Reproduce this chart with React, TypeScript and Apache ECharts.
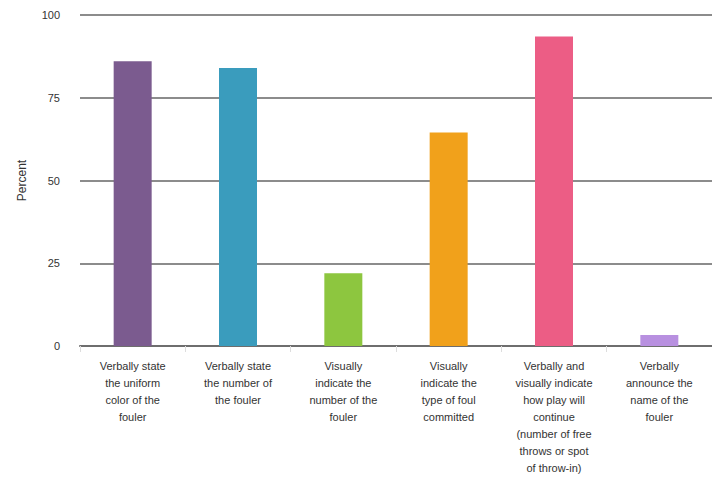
import React, { useEffect, useRef } from "react";
import * as echarts from "echarts";

const categories = [
  "Verbally state\nthe uniform\ncolor of the\nfouler",
  "Verbally state\nthe number of\nthe fouler",
  "Visually\nindicate the\nnumber of the\nfouler",
  "Visually\nindicate the\ntype of foul\ncommitted",
  "Verbally and\nvisually indicate\nhow play will\ncontinue\n(number of free\nthrows or spot\nof throw-in)",
  "Verbally\nannounce the\nname of the\nfouler",
];
const values = [86, 84, 22, 64.5, 93.5, 3.3];
const barColors = ["#7b5b8f", "#3a9cbd", "#8dc63f", "#f1a11b", "#ec5d85", "#b890e0"];
const yTicks = [0, 25, 50, 75, 100];

export default function App() {
  const ref = useRef<HTMLDivElement>(null);
  useEffect(() => {
    if (!ref.current) return;
    const chart = echarts.init(ref.current, null, { renderer: "svg" });
    const font = "'Liberation Sans', Arial, Helvetica, sans-serif";
    chart.setOption({
      animation: false,
      backgroundColor: "#ffffff",
      grid: { left: 80, top: 15, width: 636, bottom: 132, containLabel: false },
      xAxis: {
        type: "category",
        data: categories,
        axisLine: { show: true, lineStyle: { color: "#6e6e6e", width: 2 } },
        axisTick: { show: true, length: 6, lineStyle: { color: "#dddddd", width: 1 } },
        axisLabel: {
          interval: 0,
          color: "#333333",
          fontSize: 11,
          lineHeight: 17,
          fontFamily: font,
          margin: 11,
          align: "center",
        },
      },
      yAxis: {
        type: "value",
        min: yTicks[0],
        max: yTicks[yTicks.length - 1],
        interval: 25,
        name: "Percent",
        nameLocation: "middle",
        nameGap: 52,
        nameRotate: 90,
        nameTextStyle: { color: "#333333", fontSize: 12, fontFamily: font },
        axisLine: { show: false },
        axisTick: { show: false },
        axisLabel: { color: "#333333", fontSize: 11, fontFamily: font, margin: 20 },
        splitLine: { show: true, lineStyle: { color: "#8c8c8c", width: 2 } },
      },
      series: [
        {
          type: "bar",
          barWidth: 38,
          data: values.map((v, i) => ({ value: v, itemStyle: { color: barColors[i] } })),
        },
      ],
    });
    return () => chart.dispose();
  }, []);
  return (
    <div
      ref={ref}
      style={{ position: "fixed", left: 0, top: 0, width: 712, height: 478 }}
    />
  );
}
